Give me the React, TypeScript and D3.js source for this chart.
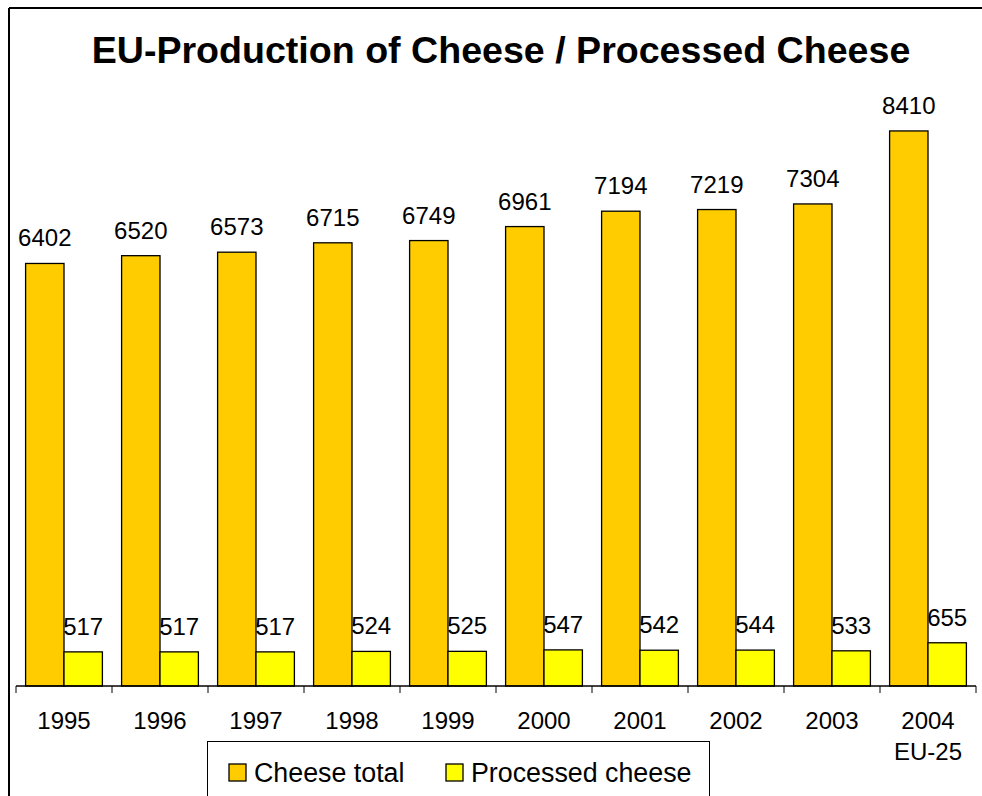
import React from "react";
import * as d3 from "d3";

const years = ["1995", "1996", "1997", "1998", "1999", "2000", "2001", "2002", "2003", "2004"];
const yearSubLabels = ["", "", "", "", "", "", "", "", "", "EU-25"];
const cheeseTotal = [6402, 6520, 6573, 6715, 6749, 6961, 7194, 7219, 7304, 8410];
const processedCheese = [517, 517, 517, 524, 525, 547, 542, 544, 533, 655];
const seriesNames = ["Cheese total", "Processed cheese"];
const seriesColors = ["#FFCC00", "#FFFF00"];
const title = "EU-Production of Cheese / Processed Cheese";

export default function App() {
  const W = 982, H = 796;
  const font = "'Liberation Sans', Arial, sans-serif";
  const x = d3.scaleBand<string>().domain(years).range([16, 976]).paddingInner(0.2).paddingOuter(0.1);
  const xs = d3.scaleBand<string>().domain(seriesNames).range([0, x.bandwidth()]).padding(0);
  const y = d3.scaleLinear().domain([0, 9000]).range([686, 92]);
  const series = [cheeseTotal, processedCheese];
  const step = x.step();
  const ticks = d3.range(years.length + 1).map((i) => 16 + i * step);

  return (
    <svg width={W} height={H} style={{ position: "absolute", left: 0, top: 0, background: "#fff" }}>
      <rect x={0} y={0} width={W} height={H} fill="#fff" />
      {/* frame */}
      <line x1={9} y1={8} x2={W} y2={8} stroke="#000" strokeWidth={2} />
      <line x1={9} y1={8} x2={9} y2={H} stroke="#000" strokeWidth={2} />
      <text x={501} y={63} textAnchor="middle" fontFamily={font} fontWeight="bold" fontSize={37.6} fill="#000">
        {title}
      </text>
      {series.map((vals, si) =>
        years.map((yr, i) => {
          const bx = (x(yr) as number) + (xs(seriesNames[si]) as number);
          const bw = xs.bandwidth();
          const top = y(vals[i]);
          return (
            <g key={`${si}-${i}`}>
              <rect x={bx} y={top} width={bw} height={y(0) - top} fill={seriesColors[si]} stroke="#000" strokeWidth={1.3} />
              <text x={bx + bw / 2} y={top - 17} textAnchor="middle" fontFamily={font} fontSize={24} fill="#000">
                {vals[i]}
              </text>
            </g>
          );
        })
      )}
      {/* axis */}
      <line x1={16} y1={y(0)} x2={976} y2={y(0)} stroke="#000" strokeWidth={1.3} />
      {ticks.map((t, i) => (
        <line key={i} x1={t} y1={y(0)} x2={t} y2={y(0) + 7} stroke="#000" strokeWidth={1} />
      ))}
      {years.map((yr, i) => (
        <g key={yr}>
          <text x={(x(yr) as number) + x.bandwidth() / 2} y={729} textAnchor="middle" fontFamily={font} fontSize={24} fill="#000">
            {yr}
          </text>
          {yearSubLabels[i] && (
            <text x={(x(yr) as number) + x.bandwidth() / 2} y={760} textAnchor="middle" fontFamily={font} fontSize={24} fill="#000">
              {yearSubLabels[i]}
            </text>
          )}
        </g>
      ))}
      {/* legend */}
      <rect x={207.5} y={741.5} width={502} height={80} fill="#fff" stroke="#000" strokeWidth={1} />
      {seriesNames.map((n, i) => {
        const lx = [229, 446][i];
        return (
          <g key={n}>
            <rect x={lx} y={764} width={17} height={17} fill={seriesColors[i]} stroke="#000" strokeWidth={1.3} />
            <text x={lx + 25} y={782} fontFamily={font} fontSize={26.8} fill="#000">
              {n}
            </text>
          </g>
        );
      })}
    </svg>
  );
}
